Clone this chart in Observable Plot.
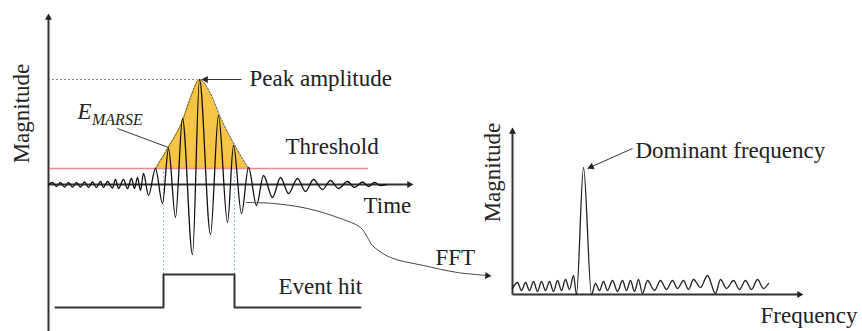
<!DOCTYPE html>
<html><head><meta charset="utf-8">
<script src="https://cdn.jsdelivr.net/npm/d3@7"></script>
<script src="https://cdn.jsdelivr.net/npm/@observablehq/plot@0.6"></script>
<style>html,body{margin:0;padding:0;background:#fff;} #chart svg{display:block;}</style>
</head><body><div id="chart"></div>
<script>
// ---- Time-domain AE signal: local extrema (time, amplitude; + is up) ----
const waveT = [48,52,56,60,64,68,72,76,80,84,88,92,96,100,103,107,112,115,118,123,127,131,134,137,140,143,148,155,162,168,175,182,192,199,210,218,227,233,241,248,256,263,272,280,288,297,305,313,322,330,338,347,354,362,368,374,380,386];
const waveA = [0,2,-2,2,-2.5,2,-2.5,2,-2.5,2.5,-3,2.5,-3,3,-3,3,-3.5,5,-4,5,-4,6,-4,7,-6,11,-11,16,-19,36,-33,66,-70,105,-50,69,-38,39,-29,17,-21,9,-13,7,-9,6,-7,5,-5,4,-4,3,-3,2.5,-2,2,-1,0];
// ---- MARSE energy envelope (area above threshold) ----
const envT = [155,167,182,190,199,210,220,230,248];
const envA = [16,36,64,87,105,91,67,47,16];
const thresholdA = 16;
const peakT = 199, peakA = 105;
// ---- Event hit (gate) ----
const hitT = [55,163,234,360];
const hitV = [0,1,0,0];
// ---- Frequency spectrum (frequency, magnitude) ----
const specF = [512,517,521,525,529,533,537,541,545,549,553,557,561,565,569,573,576,583,591,595,599,603,607,612,617,622,626,630,634,638,642,647,654,660,666,672,677,683,688,693,700,707,715,720,726,733,739,745,751,757,763,768];
const specM = [6,12,4,12,4,13,3,13,4,13,3,14,4,15,5,19,0,127,0,11,4,13,4,14,3,14,4,14,3,15,1,14,4,14,5,14,6,14,5,15,7,19,1,15,6,14,5,14,5,15,6,11];
// ---- FFT connector path ----
const connX = [246,273,307,340,360,367,372,390,423,457,487];
const connY = [202,203,208,218,227,237,245,257,265,272,275];

// ---- layout (diagram pixels) ----
const W = 862, H = 331;
const T0 = 184;          // time axis
const LX = 48;           // left magnitude axis
const HIT_BASE = 307, HIT_H = 33;
const S0 = 294, SX = 512; // spectrum axes
const FONT = "Liberation Serif, Times New Roman, serif";

const wave = waveT.map((t,i)=>({t, a: waveA[i]}));
const env = envT.map((t,i)=>({t, a: envA[i]}));
const hit = hitT.map((t,i)=>({t, v: hitV[i]}));
const spec = specF.map((f,i)=>({f, m: specM[i]}));
const conn = connX.map((x,i)=>({x, y: connY[i]}));

// arrows: shaft from (x1,y1) to tip (x2,y2)
const arrows = [
  {x1: LX, y1: H, x2: LX, y2: 13},
  {x1: LX, y1: T0, x2: 413, y2: T0},
  {x1: SX, y1: S0, x2: SX, y2: 127},
  {x1: SX, y1: S0, x2: 803, y2: S0},
  {x1: 241, y1: T0 - peakA, x2: 201, y2: T0 - peakA},
  {x1: 632, y1: 148, x2: 587, y2: 168},
  {x1: 480, y1: 274.5, x2: 491, y2: 275.5, noShaft: true}
];
const heads = arrows.map(a => {
  const dx = a.x2 - a.x1, dy = a.y2 - a.y1, L = Math.hypot(dx, dy);
  const s = 4.2;
  return {x: a.x2 - dx / L * s, y: a.y2 - dy / L * s, rot: Math.atan2(dx, -dy) * 180 / Math.PI};
});

const labels = [
  {text: "Peak amplitude", x: 249, y: 78},
  {text: "Threshold", x: 285, y: 146.5},
  {text: "Time", x: 363, y: 205.5},
  {text: "Event hit", x: 278, y: 286.5},
  {text: "FFT", x: 435, y: 257.5},
  {text: "Dominant frequency", x: 635, y: 150.5},
  {text: "Frequency", x: 760, y: 315.5}
];
const vlabels = [
  {text: "Magnitude", x: 21.5, y: 113},
  {text: "Magnitude", x: 492.5, y: 172}
];

const chart = Plot.plot({
  width: W, height: H, margin: 0,
  x: {domain: [0, W], range: [0, W], axis: null},
  y: {domain: [0, H], range: [0, H], axis: null},
  style: {background: "white", fontFamily: FONT},
  marks: [
    // yellow MARSE area above threshold
    Plot.areaY(env, {x: "t", y1: () => T0 - thresholdA, y2: d => T0 - d.a, fill: "#f6c544", curve: "monotone-x"}),
    Plot.line(env, {x: "t", y: d => T0 - d.a, stroke: "#333", strokeWidth: 0.8, strokeDasharray: "2,1.5", curve: "monotone-x"}),
    // threshold
    Plot.ruleY([thresholdA], {y: d => T0 - d, x1: 50, x2: 368, stroke: "#f08a8a", strokeWidth: 1.6}),
    // peak dotted guide
    Plot.ruleY([peakA], {y: d => T0 - d, x1: LX, x2: peakT - 2, stroke: "#777", strokeWidth: 0.9, strokeDasharray: "2,2"}),
    // blue dotted gate lines
    Plot.ruleX([hitT[1], hitT[2]], {y1: T0 - thresholdA, y2: HIT_BASE - HIT_H, stroke: "#8fb9e6", strokeWidth: 1, strokeDasharray: "2,2"}),
    // axes shafts
    Plot.link(arrows.filter(a => !a.noShaft).slice(0, 4), {x1: "x1", y1: "y1", x2: d => d.x2 + (d.x2 > d.x1 ? -3 : 0), y2: d => d.y2 + (d.y2 < d.y1 ? 3 : 0), stroke: "#333", strokeWidth: 2}),
    // annotation pointer shafts
    Plot.link(arrows.slice(4, 6), {x1: "x1", y1: "y1", x2: "x2", y2: "y2", stroke: "#333", strokeWidth: 1}),
    // E_MARSE pointer
    Plot.link([{x1: 117, y1: 128, x2: 168, y2: 147}], {x1: "x1", y1: "y1", x2: "x2", y2: "y2", stroke: "#333", strokeWidth: 1}),
    // AE waveform
    Plot.line(wave, {x: "t", y: d => T0 - d.a, stroke: "#111", strokeWidth: 1.3, curve: "monotone-x"}),
    // event hit gate
    Plot.line(hit, {x: "t", y: d => HIT_BASE - d.v * HIT_H, stroke: "#333", strokeWidth: 2, curve: "step-after"}),
    // FFT connector
    Plot.line(conn, {x: "x", y: "y", stroke: "#444", strokeWidth: 1, curve: "catmull-rom"}),
    // spectrum
    Plot.line(spec, {x: "f", y: d => S0 - d.m, stroke: "#222", strokeWidth: 1.3, curve: "monotone-x"}),
    // arrowheads
    Plot.dot(heads, {x: "x", y: "y", rotate: "rot", symbol: "triangle2", r: 3.4, fill: "#222", stroke: "none"}),
    // labels
    Plot.text(labels, {x: "x", y: "y", text: "text", textAnchor: "start", lineAnchor: "middle", fontSize: 23, fill: "#222", fontFamily: FONT}),
    Plot.text(vlabels, {x: "x", y: "y", text: "text", rotate: -90, textAnchor: "middle", lineAnchor: "middle", fontSize: 23, fill: "#222", fontFamily: FONT}),
    Plot.text(["E"], {x: 77, y: 111.5, text: d => d, textAnchor: "start", lineAnchor: "middle", fontSize: 23, fontStyle: "italic", fill: "#222", fontFamily: FONT}),
    Plot.text(["MARSE"], {x: 91.5, y: 119, text: d => d, textAnchor: "start", lineAnchor: "middle", fontSize: 16, fontStyle: "italic", fill: "#222", fontFamily: FONT})
  ]
});
document.getElementById("chart").appendChild(chart);
</script>
</body></html>
